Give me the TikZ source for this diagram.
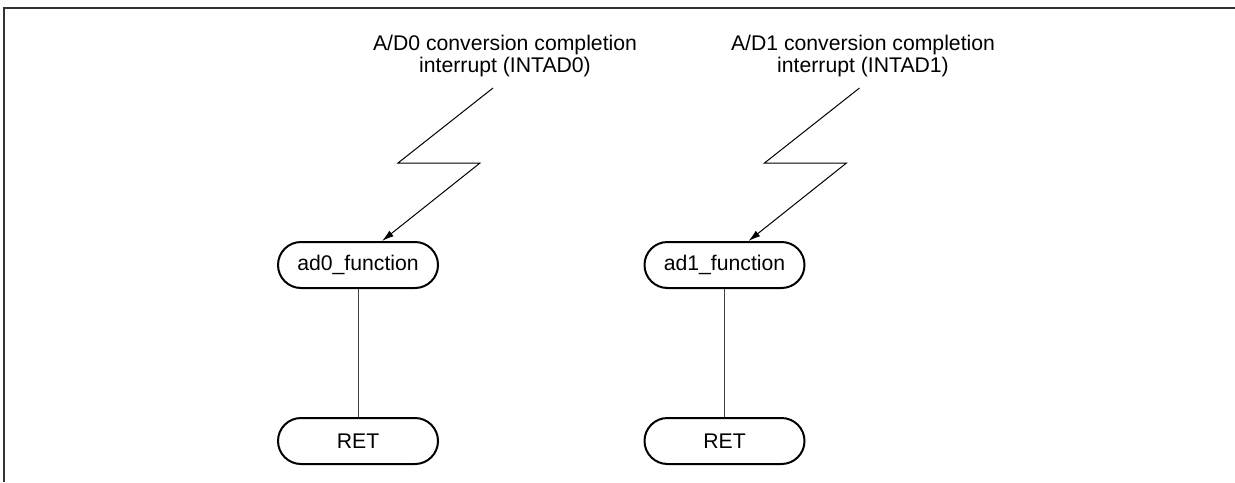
\documentclass[tikz,border=0pt]{standalone}
\usepackage{fontspec}
\setmainfont{Liberation Sans}
\usetikzlibrary{positioning,shapes.misc,arrows.meta}

\begin{document}
\begin{tikzpicture}[x=0.5pt,y=-0.5pt]

\tikzstyle{routine}=[draw, line width=1pt, rounded rectangle, minimum width=80pt, minimum height=23pt, inner sep=0pt, font=\fontsize{10.6}{12}\selectfont]
\tikzstyle{intlabel}=[align=center, inner sep=0pt, font=\fontsize{10.6}{11}\selectfont]
\tikzstyle{bolt}=[line width=0.5pt, -{Latex[length=6pt,width=3.5pt]}]
\tikzstyle{flow}=[line width=0.5pt, draw=black!75]

\useasboundingbox (0,0) rectangle (1235,482);
\draw[line width=0.8pt, draw=black!80] (1235,8) -- (4,8) -- (4,482);

\foreach \n/\x/\lx in {0/358/505, 1/724.5/863} {
    \node[intlabel] (int\n) at (\lx,56) {A/D\n\ conversion completion\\interrupt (INTAD\n)};
    \node[routine] (ad\n) at (\x,265) {ad\n\_function};
    \node[routine, below=64pt of ad\n] (ret\n) {RET};
    \coordinate (z\n a) at (\x+135,88);
    \coordinate (z\n b) at (\x+40,163);
    \coordinate (z\n c) at (\x+122,163);
    \draw[bolt] (z\n a) -- (z\n b) -- (z\n c) -- ([xshift=12pt]ad\n.north);
    \draw[flow] (ad\n) -- (ret\n);
}

\end{tikzpicture}
\end{document}
